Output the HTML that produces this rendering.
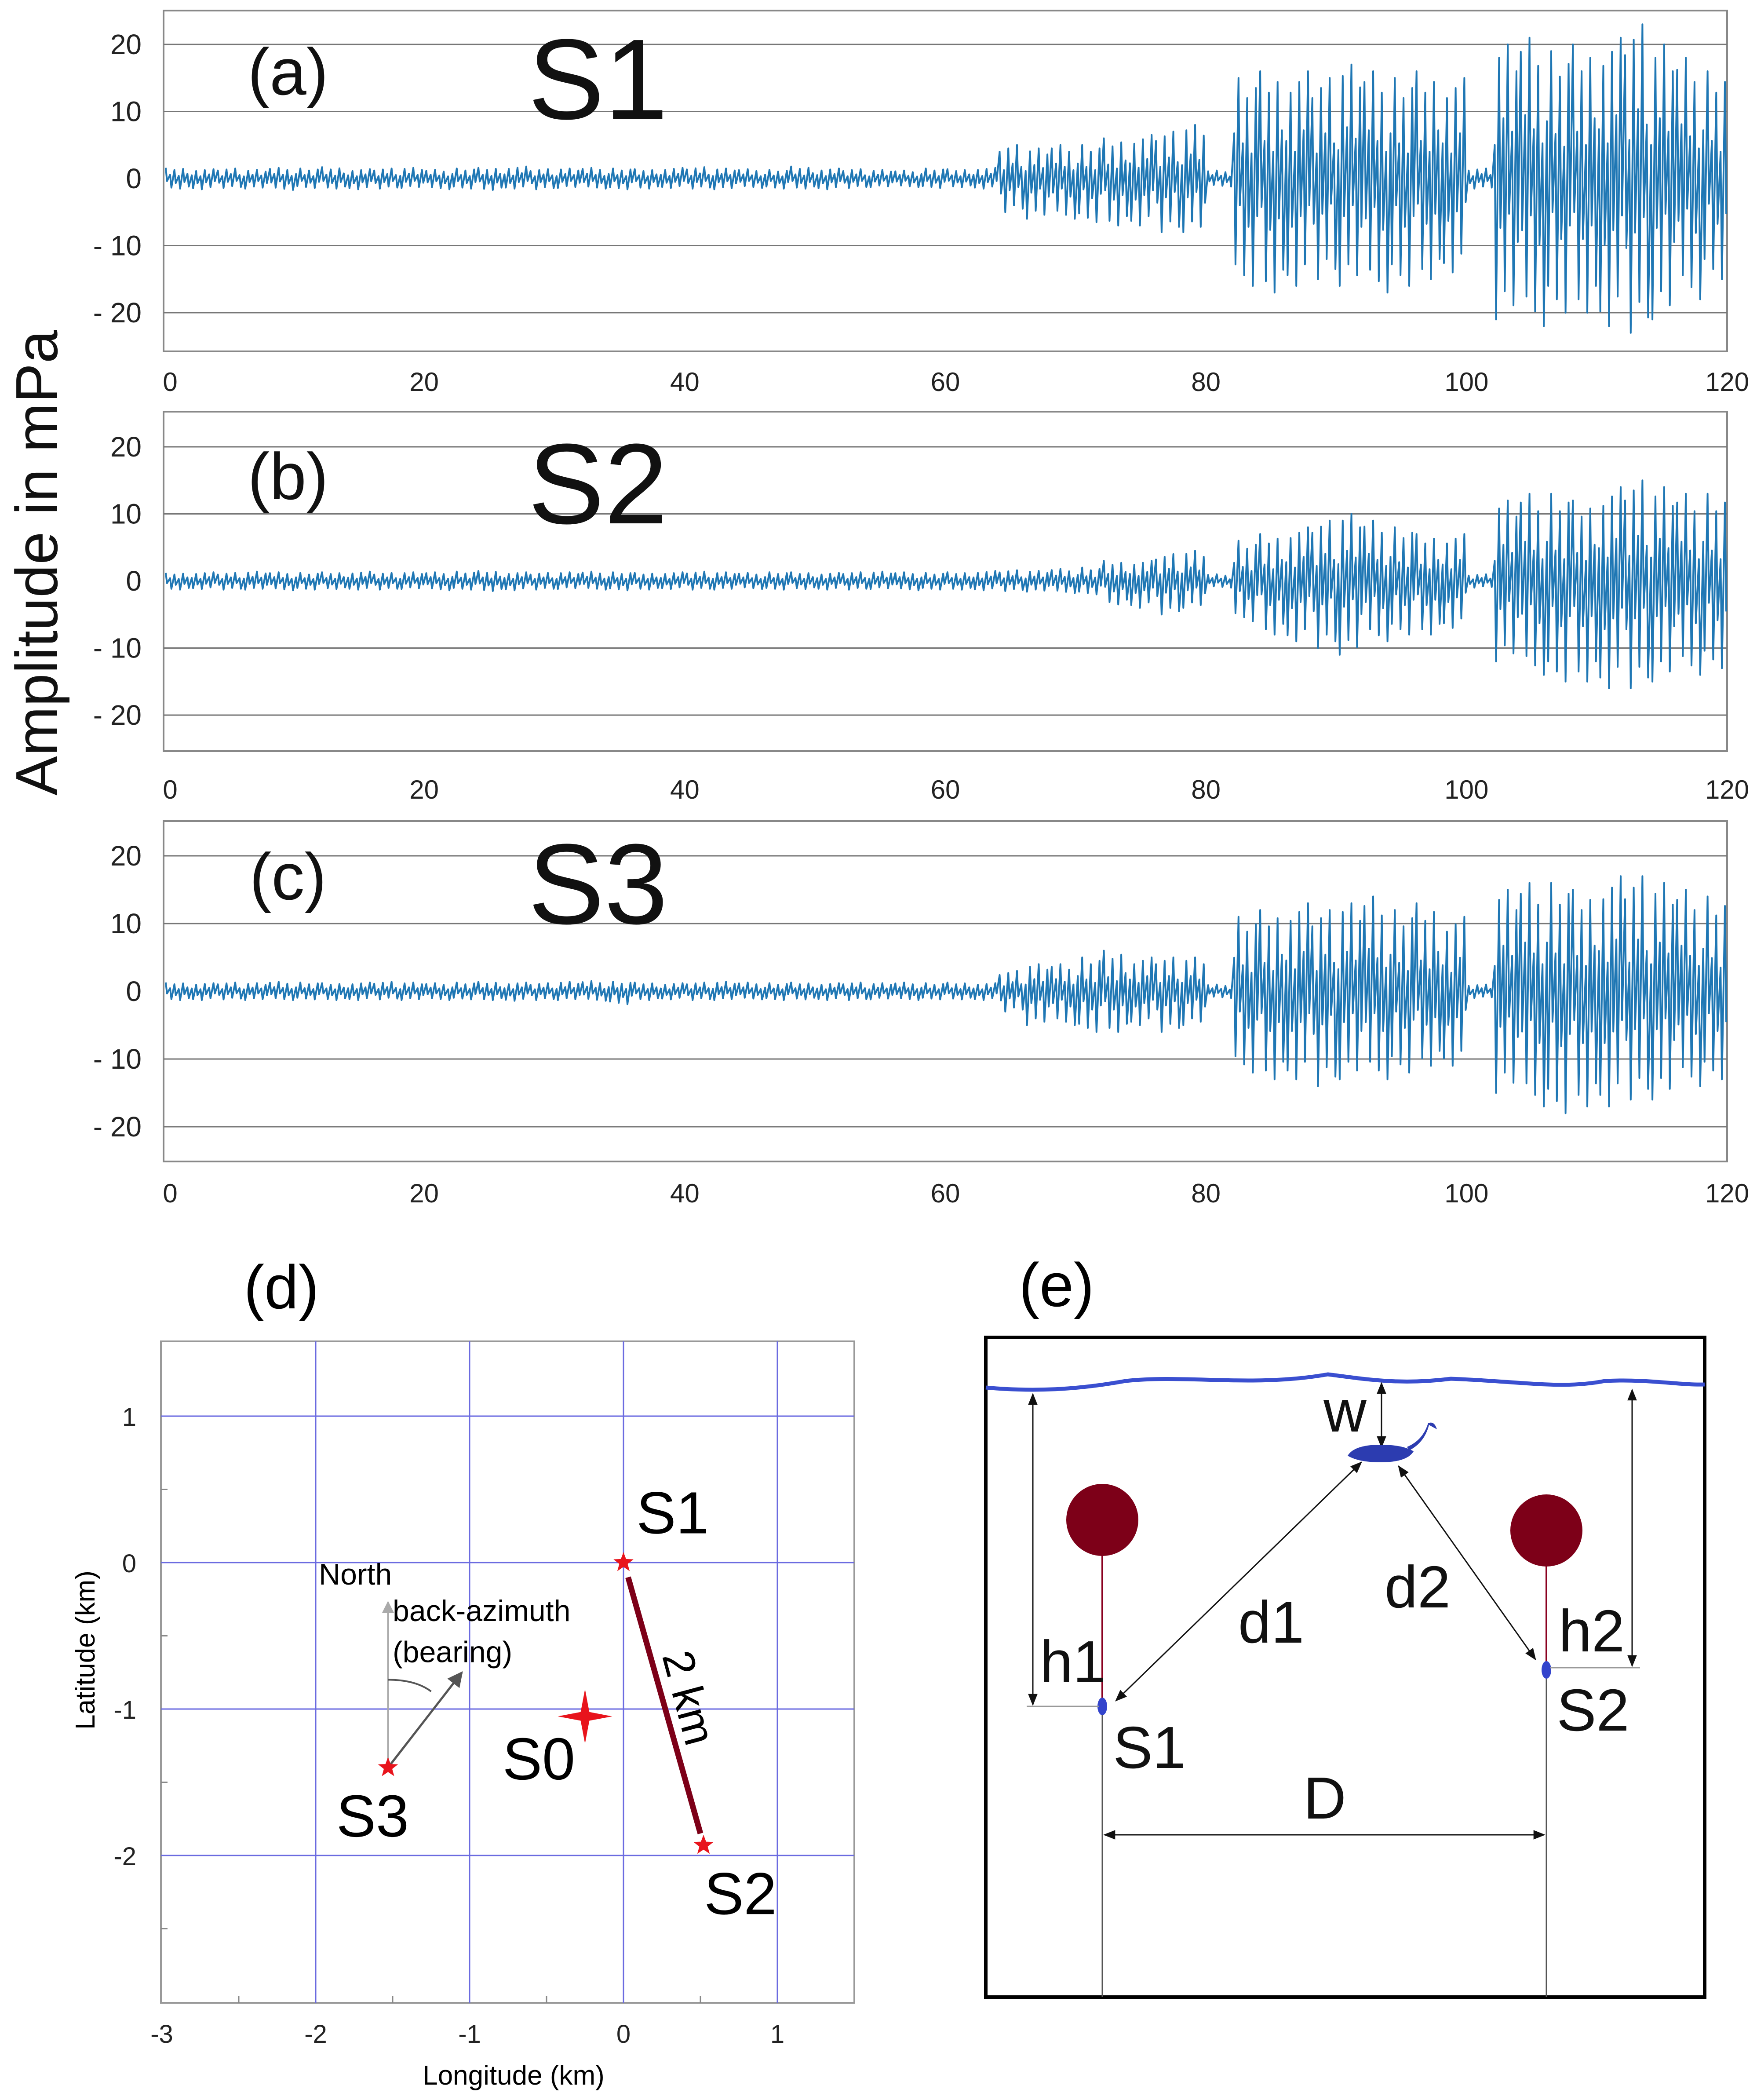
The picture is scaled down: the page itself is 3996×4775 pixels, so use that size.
<!DOCTYPE html>
<html><head><meta charset="utf-8">
<style>
html,body{margin:0;padding:0;background:#fff;}
svg{display:block;font-family:"Liberation Sans","DejaVu Sans",sans-serif;}
</style></head>
<body>
<svg id="fig" xmlns="http://www.w3.org/2000/svg" width="3996" height="4775" viewBox="0 0 3996 4775">
<rect x="0" y="0" width="3996" height="4775" fill="#fff"/>
<text transform="translate(130,1280) rotate(-90)" text-anchor="middle" font-size="135" fill="#111">Amplitude in mPa</text>
<g id="wave"></g>
<g id="mapd"></g>
<g id="diag">
  <text x="2403" y="2970" font-size="140" text-anchor="middle">(e)</text>
  <rect x="2242" y="3041" width="1635" height="1500" fill="none" stroke="#000" stroke-width="8"/>
  <path d="M2242,3155 C2350,3165 2450,3160 2560,3140 C2700,3125 2850,3155 3020,3125 C3100,3135 3180,3150 3300,3135 C3450,3140 3550,3160 3650,3140 C3750,3135 3820,3150 3877,3148" fill="none" stroke="#3a4fd0" stroke-width="9"/>
  <defs><marker id="ah" viewBox="0 0 10 10" refX="9" refY="5" markerWidth="9" markerHeight="9" orient="auto-start-reverse"><path d="M0,1 L10,5 L0,9 z" fill="#111"/></marker></defs>
  <line x1="2507" y1="3520" x2="2507" y2="4541" stroke="#555" stroke-width="3"/>
  <line x1="2507" y1="3520" x2="2507" y2="3870" stroke="#8a0020" stroke-width="4"/>
  <ellipse cx="2507" cy="3456" rx="82" ry="82" fill="#7d0018"/>
  <ellipse cx="2507" cy="3880" rx="11" ry="20" fill="#3344cc"/>
  <line x1="3517" y1="3545" x2="3517" y2="4541" stroke="#555" stroke-width="3"/>
  <line x1="3517" y1="3545" x2="3517" y2="3790" stroke="#8a0020" stroke-width="4"/>
  <ellipse cx="3517" cy="3480" rx="82" ry="82" fill="#7d0018"/>
  <ellipse cx="3517" cy="3797" rx="11" ry="20" fill="#3344cc"/>
  <line x1="2349" y1="3170" x2="2349" y2="3876" stroke="#111" stroke-width="3" marker-start="url(#ah)" marker-end="url(#ah)"/>
  <line x1="2335" y1="3880" x2="2500" y2="3880" stroke="#999" stroke-width="3"/>
  <line x1="3712" y1="3160" x2="3712" y2="3788" stroke="#111" stroke-width="3" marker-start="url(#ah)" marker-end="url(#ah)"/>
  <line x1="3525" y1="3792" x2="3730" y2="3792" stroke="#999" stroke-width="3"/>
  <line x1="3142" y1="3145" x2="3142" y2="3290" stroke="#111" stroke-width="3" marker-start="url(#ah)" marker-end="url(#ah)"/>
  <g fill="#2c3cb0">
    <path d="M3065,3310 Q3080,3285 3140,3285 Q3190,3285 3215,3300 Q3200,3325 3140,3325 Q3090,3325 3065,3310 z"/>
    <path d="M3205,3298 Q3240,3280 3250,3240 L3268,3250 Q3262,3230 3248,3236 Q3236,3275 3200,3290 z"/>
  </g>
  <line x1="3096" y1="3325" x2="2538" y2="3867" stroke="#111" stroke-width="3" marker-start="url(#ah)" marker-end="url(#ah)"/>
  <line x1="3181" y1="3334" x2="3492" y2="3773" stroke="#111" stroke-width="3" marker-start="url(#ah)" marker-end="url(#ah)"/>
  <line x1="2512" y1="4172" x2="3512" y2="4172" stroke="#111" stroke-width="3" marker-start="url(#ah)" marker-end="url(#ah)"/>
  <g font-size="135" fill="#111" text-anchor="middle">
    <text x="3059" y="3255">w</text>
    <text x="2891" y="3735">d1</text>
    <text x="3224" y="3655">d2</text>
    <text x="2440" y="3825">h1</text>
    <text x="3620" y="3755">h2</text>
    <text x="2614" y="4020">S1</text>
    <text x="3623" y="3935">S2</text>
    <text x="3013" y="4135">D</text>
  </g>
</g>
</svg>
<script>
// ---- waveform envelope data: 2-second bins, 0..120 s ----
const binSeconds = 2;
const xTicks = [0,20,40,60,80,100,120];
const yTicks = [20,10,0,-10,-20];
const yTickLabels = ["20","10","0","- 10","- 20"];
const panelLetters = ["(a)","(b)","(c)"];
const stationNames = ["S1","S2","S3"];
const aMax = [1.6,1.4,1.5,1.3,1.6,1.5,1.7,1.4,1.5,1.6,1.3,1.5,1.6,1.8,1.4,1.5,1.6,1.5,1.4,1.6,1.7,1.5,1.4,1.3,1.8,1.5,1.4,1.3,1.2,1.5,1.4,1.6,
  5,4.5,5,5,6,6.5,7,8,1.2, 15,16,16,15,17,16,15,16,15, 1.5, 20,21,19,20,21,23,20,18,16];
const aMin = [1.5,1.6,1.4,1.5,1.7,1.4,1.5,1.6,1.5,1.4,1.6,1.5,1.7,1.5,1.6,1.4,1.5,1.6,1.5,1.4,1.5,1.6,1.4,1.5,1.5,1.6,1.4,1.3,1.3,1.4,1.3,1.5,
  5,6,6,6.5,7,7,8,8,1.2, 16,17,16,15,16,17,16,15,14, 1.5, 21,22,20,20,22,23,21,18,15];
const bMax = [1.2,1.3,1.2,1.4,1.3,1.2,1.3,1.4,1.2,1.3,1.3,1.4,1.5,1.3,1.2,1.3,1.4,1.3,1.2,1.3,1.4,1.3,1.2,1.3,1.3,1.2,1.3,1.4,1.3,1.2,1.3,1.5,1.6,1.5,1.8,
  2,3,3,4,4.5,1, 6,7,8,9,10,9,8,7,7, 1, 12,13,13,12,14,15,14,13,13];
const bMin = [1.3,1.2,1.3,1.3,1.4,1.3,1.2,1.3,1.3,1.2,1.4,1.3,1.5,1.4,1.3,1.2,1.3,1.4,1.3,1.2,1.3,1.3,1.2,1.3,1.2,1.3,1.3,1.2,1.4,1.3,1.3,1.4,1.5,1.6,1.8,
  2,3.5,4,5,4,1, 6,8,9,10,11,9,8,8,7, 1, 12,14,15,15,16,16,15,14,13];
const cMax = [1.3,1.2,1.3,1.2,1.4,1.3,1.2,1.3,1.4,1.3,1.2,1.3,1.4,1.3,1.2,1.4,1.5,1.4,1.3,1.2,1.3,1.4,1.3,1.2,1.3,1.2,1.3,1.2,1.3,1.2,1.3,1.2,
  3,4,4,5,6,5,5,5,1, 11,12,13,12,13,14,12,13,11, 1, 15,16,16,15,17,17,16,15,14];
const cMin = [1.3,1.3,1.2,1.3,1.3,1.2,1.3,1.3,1.2,1.3,1.3,1.2,1.3,1.4,1.3,1.3,1.4,1.9,1.3,1.2,1.3,1.3,1.2,1.3,1.2,1.3,1.3,1.2,1.3,1.2,1.2,1.3,
  3,5,5,6,6,5,6,5,1, 12,13,13,14,13,13,12,11,11, 1, 15,17,18,17,17,16,16,14,13];
const seriesMax = [aMax,bMax,cMax];
const seriesMin = [aMin,bMin,cMin];

// ---- map (d) data ----
const lonTicks = [-3,-2,-1,0,1];
const latTicks = [1,0,-1,-2];
const stationLon = [0,0.52,-1.53];
const stationLat = [0,-1.93,-1.4];
const sourceLon = [-0.25];
const sourceLat = [-1.05];

const NS = "http://www.w3.org/2000/svg";
function mk(tag, attrs, parent, txt){
  const e = document.createElementNS(NS, tag);
  for (const k in attrs) e.setAttribute(k, attrs[k]);
  if (txt !== undefined) e.textContent = txt;
  parent.appendChild(e);
  return e;
}

// ---- waveforms ----
const wave = document.getElementById('wave');
const panels = [
  {top:24, bottom:799, y0:406, y20:101, xl:869, letterY:215, nameY:270},
  {top:936, bottom:1708, y0:1321, y20:1016, xl:1796, letterY:1135, nameY:1190},
  {top:1867, bottom:2641, y0:2254, y20:1946, xl:2714, letterY:2045, nameY:2100}
];
const L = 372, R = 3928;
const xScale = t => L + (t/120)*(R-L);
const pattern = [1,0.35,0.8,0.25,0.9,0.45];
panels.forEach((p,pi)=>{
  const g = mk('g',{},wave);
  
  
  const yScale = v => p.y0 - v*(p.y0-p.y20)/20;
  const frame = mk('rect',{x:L,y:p.top,width:R-L,height:p.bottom-p.top,fill:'none',stroke:'#888','stroke-width':4},g);
  
  
  yTicks.forEach((v,i)=>{
    if (v!==0){
      const gl = mk('line',{x1:L,x2:R,y1:yScale(v),y2:yScale(v),stroke:'#777','stroke-width':3},g);
      
      
    }
    const tl = mk('text',{x:322,y:yScale(v)+22,'font-size':64,'text-anchor':'end',fill:'#222'},g,yTickLabels[i]);
    
    
  });
  xTicks.forEach(t=>{
    const tl = mk('text',{x:xScale(t)+(t===0?15:0),y:p.xl+20,'font-size':60,'text-anchor':'middle',fill:'#222'},g,String(t));
    
    
  });
  const mx = seriesMax[pi], mn = seriesMin[pi];
  let d = '';
  const sub = pattern.length;
  mx.forEach((hi,i)=>{
    const lo = mn[i];
    for (let k=0;k<sub;k++){
      const t = i*binSeconds + (k+0.5)*binSeconds/sub;
      const f = pattern[(k+i)%sub];
      const x = xScale(t);
      d += (i===0&&k===0?'M':'L') + x.toFixed(1)+','+yScale(hi*f).toFixed(1);
      d += 'L'+(x+3).toFixed(1)+','+yScale(-lo*pattern[(k+i+3)%sub]).toFixed(1);
    }
  });
  const w = mk('path',{d:d,fill:'none',stroke:'#1f77b4','stroke-width':4,'stroke-linejoin':'round'},g);
  
  
  const lt = mk('text',{x:655,y:p.letterY,'font-size':150,'text-anchor':'middle',fill:'#111'},g,panelLetters[pi]);
  
  
  const nm = mk('text',{x:1360,y:p.nameY,'font-size':260,'text-anchor':'middle',fill:'#111'},g,stationNames[pi]);
  
  
});

// ---- map (d) ----
const md = document.getElementById('mapd');
const dL=366, dR=1943, dT=3050, dB=4554;
const lonX = v => 1418 + v*350;
const latY = v => 3553 - v*333;
const gd = mk('g',{},md);


const dl = mk('text',{x:640,y:2975,'font-size':140,'text-anchor':'middle'},gd,'(d)');


const fr = mk('rect',{x:dL,y:dT,width:dR-dL,height:dB-dT,fill:'none',stroke:'#999','stroke-width':4},gd);


lonTicks.forEach(v=>{
  if (v>-3){
    const gl = mk('line',{x1:lonX(v),x2:lonX(v),y1:dT,y2:dB,stroke:'#6b6be0','stroke-width':3},gd);
    
    
  }
  const tl = mk('text',{x:lonX(v),y:4645,'font-size':58,'text-anchor':'middle',fill:'#222'},gd,String(v));
  
  
});
[-2.5,-1.5,-0.5,0.5].forEach(v=>{ mk('line',{x1:lonX(v),x2:lonX(v),y1:dB-15,y2:dB,stroke:'#888','stroke-width':3},gd); });
[0.5,-0.5,-1.5,-2.5].forEach(v=>{ mk('line',{x1:dL,x2:dL+15,y1:latY(v),y2:latY(v),stroke:'#888','stroke-width':3},gd); });
latTicks.forEach(v=>{
  const gl = mk('line',{x1:dL,x2:dR,y1:latY(v),y2:latY(v),stroke:'#6b6be0','stroke-width':3},gd);
  
  
  const tl = mk('text',{x:310,y:latY(v)+22,'font-size':58,'text-anchor':'end',fill:'#222'},gd,String(v));
  
  
});
const xt = mk('text',{x:1168,y:4740,'font-size':62,'text-anchor':'middle'},gd,'Longitude (km)');


const yt = mk('text',{transform:'translate(215,3752) rotate(-90)','font-size':62,'text-anchor':'middle'},gd,'Latitude (km)');


const bl = mk('line',{x1:lonX(stationLon[0]+0.03),y1:latY(stationLat[0]-0.1),x2:lonX(stationLon[1]-0.02),y2:latY(stationLat[1]+0.08),stroke:'#7d0018','stroke-width':13},gd);


const km = mk('text',{transform:'translate('+lonX(0.33)+','+latY(-0.95)+') rotate(75)','font-size':100,'text-anchor':'middle'},gd,'2 km');


const s3x = lonX(stationLon[2]), s3y = latY(stationLat[2]);
mk('defs',{},gd).innerHTML = '<marker id="ga" viewBox="0 0 10 10" refX="9" refY="5" markerWidth="7" markerHeight="7" orient="auto"><path d="M0,0 L10,5 L0,10 z" fill="#aaa"/></marker><marker id="da" viewBox="0 0 10 10" refX="9" refY="5" markerWidth="7" markerHeight="7" orient="auto"><path d="M0,0 L10,5 L0,10 z" fill="#555"/></marker>';
const na = mk('line',{x1:s3x,y1:s3y,x2:s3x,y2:latY(-0.27),stroke:'#aaa','stroke-width':4,'marker-end':'url(#ga)'},gd);


const ba = mk('line',{x1:s3x,y1:s3y,x2:lonX(-1.05),y2:latY(-0.75),stroke:'#555','stroke-width':5,'marker-end':'url(#da)'},gd);


mk('path',{d:'M'+s3x+','+latY(-0.8)+' Q'+lonX(-1.35)+','+latY(-0.8)+' '+lonX(-1.25)+','+latY(-0.88),fill:'none',stroke:'#555','stroke-width':4},gd);
[['North',-1.98,-0.15,'north-label'],['back-azimuth',-1.5,-0.4,'back-azimuth-label'],['(bearing)',-1.5,-0.68,'bearing-label']].forEach(a=>{
  const t = mk('text',{x:lonX(a[1]),y:latY(a[2]),'font-size':68},gd,a[0]);
  
  
});
function starPath(cx,cy,ro,ri,n){
  let d='';
  for(let i=0;i<2*n;i++){
    const r = i%2?ri:ro, a = -Math.PI/2 + i*Math.PI/n;
    d += (i?'L':'M')+(cx+r*Math.cos(a)).toFixed(1)+','+(cy+r*Math.sin(a)).toFixed(1);
  }
  return d+'Z';
}
stationLon.forEach((v,i)=>{
  const s = mk('path',{d:starPath(lonX(v),latY(stationLat[i]),24,10,5),fill:'#e8141c'},gd);
  
  
});
sourceLon.forEach((v,i)=>{
  const s = mk('path',{d:starPath(lonX(v),latY(sourceLat[i]),62,14,4),fill:'#e8141c'},gd);
  
  
});
const labOff = [[0.32,0.35],[0.24,-0.32],[-0.1,-0.32]];
stationLon.forEach((v,i)=>{
  const t = mk('text',{x:lonX(v+labOff[i][0]),y:latY(stationLat[i]+labOff[i][1])+50,'font-size':135,'text-anchor':'middle'},gd,stationNames[i]);
  
  
});
const s0 = mk('text',{x:lonX(sourceLon[0]-0.3),y:latY(sourceLat[0]-0.28)+50,'font-size':135,'text-anchor':'middle'},gd,'S0');


</script>
</body></html>
